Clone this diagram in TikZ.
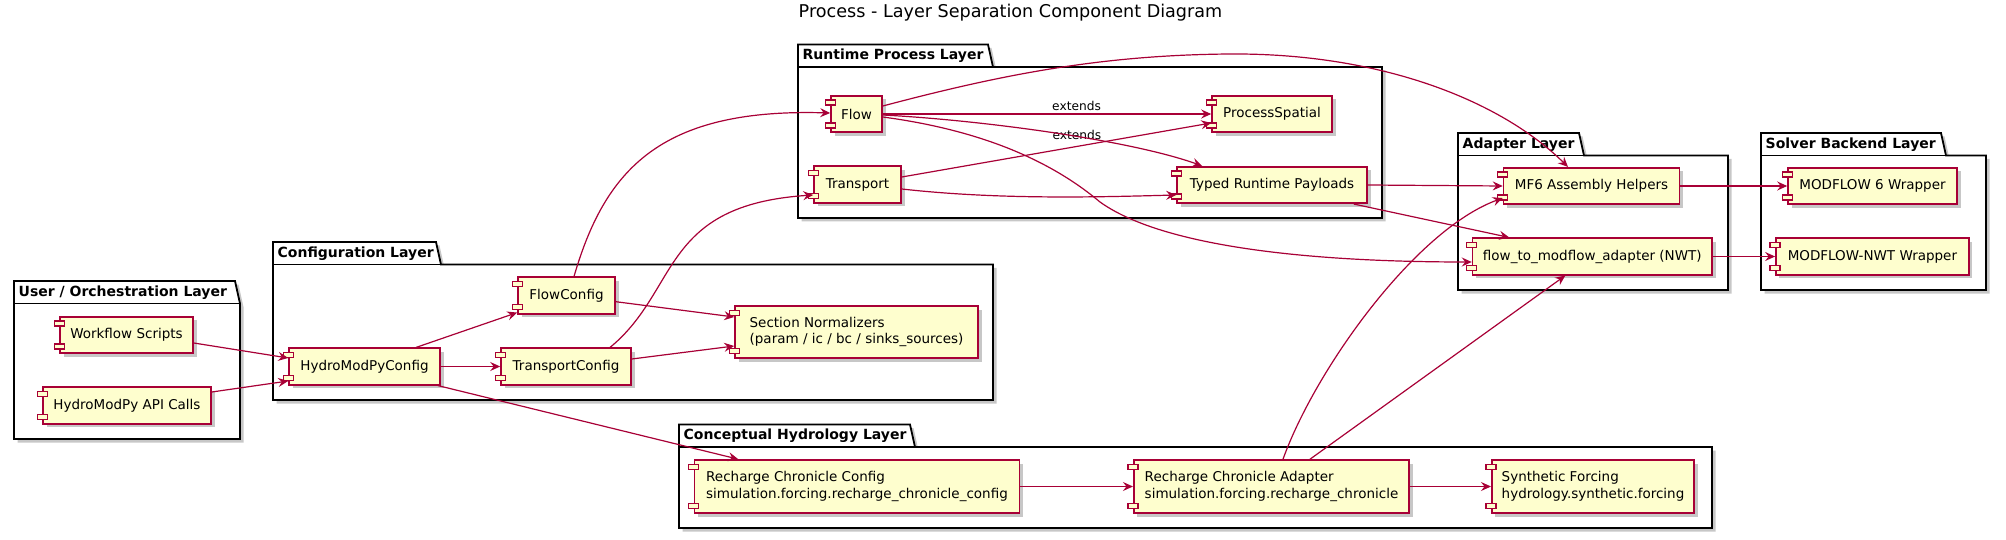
\documentclass[tikz,border=0pt]{standalone}
\usepackage{fontspec}
\setmainfont{DejaVu Sans}
\usetikzlibrary{arrows.meta,shadows}
\definecolor{plborder}{HTML}{A80036}
\definecolor{plfill}{HTML}{FEFECE}
\tikzset{
  comp/.style={draw=plborder, fill=plfill, line width=1.6pt, inner sep=2pt, align=left,
    font=\fontsize{13.5}{16.8}\selectfont,
    drop shadow={shadow xshift=3.5pt, shadow yshift=-3.5pt, fill=black, opacity=0.22}},
  compicon/.style={draw=plborder, fill=plfill, line width=1.3pt},
  pkgbox/.style={draw=black, fill=white, line width=1.8pt,
    drop shadow={shadow xshift=3.5pt, shadow yshift=-3.5pt, fill=black, opacity=0.22}},
  pkgline/.style={draw=black, line width=1.8pt},
  pkglabel/.style={anchor=west, inner sep=0pt, font=\bfseries\fontsize{14}{16}\selectfont},
  link/.style={draw=plborder, line width=1.2pt, -{Stealth[length=10pt,width=9pt,inset=3.5pt]}},
  lbl/.style={font=\fontsize{12.2}{14}\selectfont, inner sep=0pt},
  titlestyle/.style={font=\fontsize{17.6}{20}\selectfont, anchor=base, inner sep=0pt},
}
\newcommand\drawpkg[7]{%
  \draw[pkgbox] (#2,#3) -- (#4,#3) -- (#4+5,#3+22.5) -- (#5,#3+22.5) -- (#5,#6) -- (#2,#6) -- cycle;
  \draw[pkgline] (#2,#3+22.5) -- (#4+5,#3+22.5);
  \node[pkglabel] (#1) at (#2+4.5,#3+11.5) {#7};
}
\newcommand\drawcmp[6]{%
  \node[comp, minimum width=#4pt, minimum height=#5pt] (#1) at (#2,#3) {#6};
  \draw[compicon] ([xshift=-5pt,yshift=-5pt]#1.north west) rectangle ++(10pt,-5pt);
  \draw[compicon] ([xshift=-5pt,yshift=5pt]#1.south west) rectangle ++(10pt,5pt);
}
\begin{document}
\begin{tikzpicture}[x=1pt,y=-1pt]
\useasboundingbox (0,0) rectangle (2006,540);
\node[titlestyle] (title) at (1010.5,17.3) {Process - Layer Separation Component Diagram};
% packages
\drawpkg{pkuser}{14}{281}{235}{240}{439}{User / Orchestration Layer}
\drawpkg{pkcfg}{273}{242}{436}{993}{400}{Configuration Layer}
\drawpkg{pkrt}{798}{44.5}{988}{1382}{218}{Runtime Process Layer}
\drawpkg{pkad}{1458}{133}{1579}{1728}{290}{Adapter Layer}
\drawpkg{pksv}{1761}{133}{1941}{1986}{290}{Solver Backend Layer}
\drawpkg{pkch}{679}{424.5}{910}{1712}{528}{Conceptual Hydrology Layer}
% components
\drawcmp{ws}{126.5}{335}{133}{36.5}{Workflow Scripts}
\drawcmp{api}{127}{405.5}{168}{36.5}{HydroModPy API Calls}
\drawcmp{hmc}{364.5}{366.5}{151}{36.5}{HydroModPyConfig}
\drawcmp{fc}{566.5}{295.5}{97}{36.5}{FlowConfig}
\drawcmp{tc}{566}{366.5}{130}{36.5}{TransportConfig}
\drawcmp{sn}{856.5}{332}{243}{52}{Section Normalizers\\(param / ic / bc / sinks\_sources)}
\drawcmp{flow}{856.5}{114}{51}{36.5}{Flow}
\drawcmp{transport}{857.5}{184.5}{87}{36.5}{Transport}
\drawcmp{ps}{1272}{114}{120}{36.5}{ProcessSpatial}
\drawcmp{trp}{1272}{185}{190}{36.5}{Typed Runtime Payloads}
\drawcmp{mf6}{1591.5}{186}{176}{36.5}{MF6 Assembly Helpers}
\drawcmp{f2m}{1592.3}{256.5}{239.5}{36.5}{flow\_to\_modflow\_adapter (NWT)}
\drawcmp{mf6w}{1872.5}{186}{169}{36.5}{MODFLOW 6 Wrapper}
\drawcmp{nwtw}{1872.4}{256.5}{193}{36.5}{MODFLOW-NWT Wrapper}
\drawcmp{rcc}{857}{486.5}{325}{53}{Recharge Chronicle Config\\simulation.forcing.recharge\_chronicle\_config}
\drawcmp{rca}{1271.5}{486.5}{275.5}{53}{Recharge Chronicle Adapter\\simulation.forcing.recharge\_chronicle}
\drawcmp{sf}{1593}{486.5}{202.4}{53}{Synthetic Forcing\\hydrology.synthetic.forcing}
% connectors
\draw[link] ([yshift=-8pt]ws.east) -- ([yshift=8.5pt]hmc.west);
\draw[link] ([yshift=13.5pt]api.east) -- ([yshift=-14.5pt]hmc.west);
\draw[link] ([xshift=51.5pt]hmc.north) -- ([yshift=2pt]fc.south west);
\draw[link] (hmc.east) -- (tc.west);
\draw[link] ([yshift=-6.2pt]fc.east) -- ([yshift=15pt]sn.west);
\draw[link] ([yshift=7.5pt]tc.east) -- ([yshift=-14pt]sn.west);
\draw[link] ([xshift=-3pt]hmc.south east) -- ([xshift=44.6pt]rcc.north west);
\draw[link] ([xshift=7.5pt]fc.north) .. controls (605,170) and (660,108) .. ([yshift=1pt]flow.west);
\draw[link] ([xshift=44pt]tc.north) .. controls (680,290) and (660,205) .. ([yshift=-10.5pt]transport.west);
\draw[link] (flow.east) -- node[lbl, pos=0.59, yshift=8pt] (ext1) {extends} (ps.west);
\draw[link] ([yshift=7.5pt]transport.east) -- node[lbl, pos=0.566, yshift=11.5pt] (ext2) {extends} ([yshift=-9pt]ps.west);
\draw[link] ([yshift=-1pt]flow.east) .. controls (980,120) and (1130,140) .. ([xshift=26pt]trp.north west);
\draw[link] ([yshift=-4.5pt]transport.east) .. controls (1000,200) and (1100,197) .. ([yshift=-10pt]trp.west);
\draw[link] ([yshift=8pt]flow.east) .. controls (1000,75) and (1100,55) .. (1230,54) .. controls (1380,53) and (1500,100) .. ([xshift=-23.5pt]mf6.north);
\draw[link] ([yshift=-3pt]flow.east) .. controls (980,130) and (1050,160) .. (1100,202) .. controls (1160,245) and (1300,262) .. ([yshift=-5.5pt]f2m.west);
\draw[link] (trp.east) -- (mf6.west);
\draw[link] ([xshift=-14pt]trp.south east) -- ([xshift=37.5pt]f2m.north west);
\draw[link] (mf6.east) -- (mf6w.west);
\draw[link] (f2m.east) -- (nwtw.west);
\draw[link] (rcc.east) -- (rca.west);
\draw[link] (rca.east) -- (sf.west);
\draw[link] ([xshift=11.5pt]rca.north) .. controls (1315,370) and (1415,230) .. ([yshift=7pt]mf6.south west);
\draw[link] ([xshift=38.5pt]rca.north) -- ([xshift=-27pt]f2m.south);
\end{tikzpicture}
\end{document}
